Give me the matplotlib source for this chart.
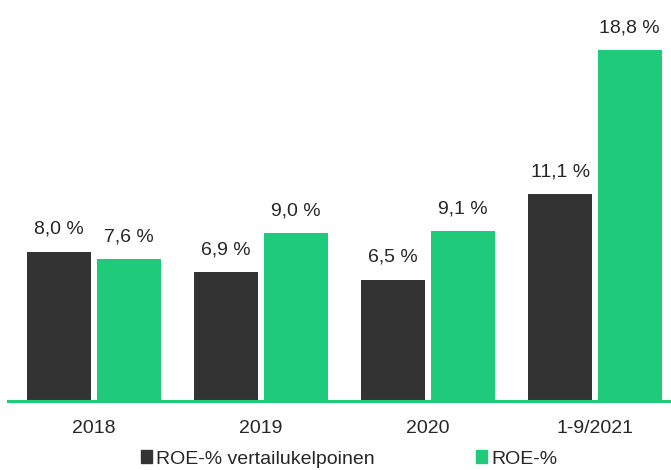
import numpy as np
import matplotlib.pyplot as plt
from matplotlib.patches import Patch

plt.rcParams['font.family'] = ['Liberation Sans', 'DejaVu Sans']

categories = ['2018', '2019', '2020', '1-9/2021']
roe_comparable = [8.0, 6.9, 6.5, 11.1]
roe = [7.6, 9.0, 9.1, 18.8]
series_names = ['ROE-% vertailukelpoinen', 'ROE-%']

dark = '#333333'
green = '#1fcb7b'
text_color = '#262626'
fs = 14


def fmt(v):
    return f"{v:.1f}".replace('.', ',') + ' %'


fig = plt.figure(figsize=(6.71, 4.70), dpi=100)
ax = fig.add_axes([8 / 671, 69 / 470, 663 / 671, 401 / 470])

x = np.arange(len(categories))
width = 0.383
offset = 0.208
b1 = ax.bar(x - offset, roe_comparable, width, color=dark)
b2 = ax.bar(x + offset, roe, width, color=green)

for bars, vals in ((b1, roe_comparable), (b2, roe)):
    for bar, v in zip(bars, vals):
        ax.annotate(fmt(v), (bar.get_x() + bar.get_width() / 2, v),
                    xytext=(0, 16), textcoords='offset points',
                    ha='center', va='center', fontsize=fs, color=text_color)

ax.set_xlim(-0.515, 3.455)
ax.set_ylim(0, 21.48)
ax.set_xticks(x)
ax.set_xticklabels(categories, fontsize=fs, color=text_color)
ax.tick_params(axis='x', length=0, pad=14)
ax.set_yticks([])
for s in ['top', 'right', 'left']:
    ax.spines[s].set_visible(False)
ax.spines['bottom'].set_color(green)
ax.spines['bottom'].set_linewidth(2.2)

handles = [Patch(color=dark), Patch(color=green)]
fig.legend(handles, series_names, loc='center', bbox_to_anchor=(349 / 671, 11 / 470),
           ncol=2, frameon=False, fontsize=fs, handlelength=0.6, handleheight=0.6,
           handletextpad=0.2, columnspacing=5.2, labelcolor=text_color)

fig.savefig('out.png', dpi=100)
